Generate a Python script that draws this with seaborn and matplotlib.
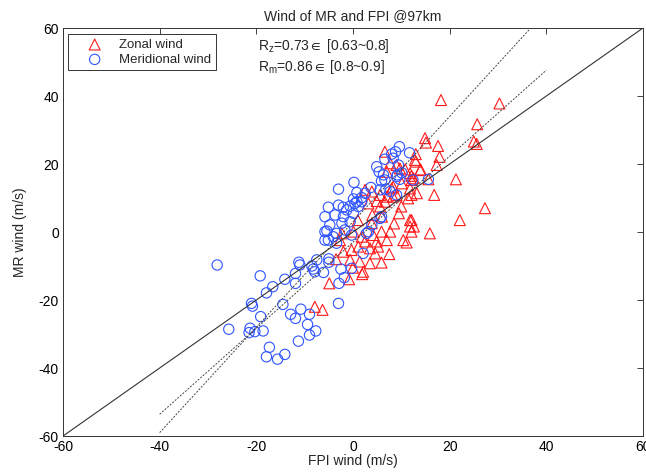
import numpy as np
import pandas as pd
import matplotlib
matplotlib.use("Agg")
import matplotlib.pyplot as plt
import seaborn as sns

# Zonal wind: FPI vs MR (m/s)
zonal_fpi = [18.2, 30.3, 25.7, 25.0, 25.6, 14.9, 15.1, 17.6, 17.9, 17.3, 12.8, 14.0, 21.3, 15.6,
             12.5, 16.8, 12.1, 27.3, 22.1, 12.1, 12.6, 6.6, 13.0, 13.0, 7.7, 7.0, 10.8, 12.1,
             10.1, 11.8, 8.0, 7.0, 9.0, 4.9, 3.2, 5.6, 3.9, 2.5, 9.0, 9.7, 11.8, 13.9, 12.1,
             13.2, 11.4, 8.3, 6.6, 5.6, 8.3, 15.9, 11.8, 11.8, 12.1, 7.7, 7.0, 10.4, 11.1, 3.9,
             5.9, 4.2, 1.8, 0.1, -2.3, 4.9, 2.5, -2.0, -0.3, 1.1, 3.5, 4.6, 5.2, -0.6, 1.4, 3.5,
             5.9, 2.1, -4.9, -0.8, 1.9, -7.9, -6.3, -2.7, 6.0, 9.5, 10.0, 4.0, 1.0, 8.5, 7.5,
             0.0, -3.5]
zonal_mr = [38.8, 37.8, 31.7, 26.6, 25.9, 27.6, 26.3, 25.3, 22.1, 19.7, 21.2, 18.4, 15.5, 15.5,
            15.8, 10.9, 10.9, 7.0, 3.5, 3.5, 1.6, 23.6, 22.9, 20.7, 20.2, 17.7, 18.4, 16.5,
            14.3, 12.8, 12.8, 10.4, 10.9, 9.1, 8.4, 7.5, 11.9, 12.4, 19.7, 18.7, 17.3, 18.2, 15.3,
            11.4, 9.9, 10.4, 8.9, 10.9, 13.3, -0.4, 1.6, 3.5, 0.1, 0.1, -2.4, -2.4, -3.1, 2.6,
            0.1, -0.9, -1.4, 0.1, -0.4, -2.8, -2.8, -5.8, -5.3, -4.3, -4.8, -6.3, -4.3, -8.2, -8.7, -9.2,
            -9.0, -11.7, -15.1, -13.9, -12.4, -22.0, -22.9, -2.4, 4.5, 5.5, 7.5, 5.0, 3.5, 2.5, -6.5,
            -10.5, -8.0]

# Meridional wind: FPI vs MR (m/s)
merid_fpi = [-28.1, -19.2, -16.6, -17.9, -14.1, -11.9, -11.9, -11.2, -11.0, -8.5, -7.9, -21.0,
             -20.8, -14.5, -19.1, -25.7, -21.3, -21.5, -20.3, -18.6, -12.9, -11.9, -10.8, -9.0,
             -9.4, -7.7, -9.0, -11.3, -17.3, -17.9, -15.6, -14.1,
             -3.0, -2.5, -2.9, -0.3, -1.8, -8.2, -6.1, -5.0, -5.0, -5.8, -3.4, -5.4, -7.5, 2.1, 3.2,
             9.6, 8.8, 8.0, 11.7, 6.6, 8.3, 4.9, 5.4, 9.4, 10.1, 9.2, 6.3, 5.9, 6.6, 9.7, 12.4,
             0.2, -3.0, 3.7, 0.8, 2.5, 6.8, 7.7, 0.1, 1.8, 0.8, -5.1, -3.0, -2.0, -0.6, 1.1, -1.3,
             0.4, 1.8, -5.8, -3.7, -2.0, 0.1, -4.8, -2.3, -0.6, -5.8, -3.4, -1.7, -0.3, -5.1, -4.1,
             5.9, 5.6, 15.6, 9.0, 5.6, 9.0, 2.8, 3.9]
merid_mr = [-9.7, -12.9, -16.1, -17.9, -13.9, -12.2, -15.1, -8.9, -9.7, -10.0, -11.7, -21.0,
            -21.8, -21.3, -24.9, -28.6, -28.3, -29.6, -29.3, -29.1, -24.2, -25.4, -22.7, -24.2,
            -27.2, -29.1, -30.3, -32.1, -33.9, -36.7, -37.4, -36.0,
            -21.0, -10.9, -15.1, -10.7, -13.4, -10.9, -11.9, -7.9, -8.9, -2.4, -3.3, 0.3, -8.2, -6.3, 0.1,
            25.1, 23.6, 22.9, 23.3, 21.4, 21.7, 19.2, 17.7, 19.7, 17.4, 16.8, 16.8, 15.0, 15.3, 15.5, 15.3,
            14.6, 12.6, 13.1, 11.6, 11.4, 12.6, 11.9, 9.7, 10.1, 8.9, 7.3, 7.9, 7.3, 7.6, 7.5, 6.5,
            8.4, 8.9, 4.5, 5.0, 4.5, 5.5, 2.1, 2.6, 3.0, 0.1, -0.4, 0.6, -0.9, -2.4, -1.4,
            4.5, 4.0, 15.5, 16.3, 12.4, 10.9, -0.4, 2.1]

# Linear fits (slope, intercept) over FPI wind -40..40
fit_slopes = [1.55, 1.265]
fit_intercepts = [3.0, -3.0]
fit_range = [-40, 40]

axis_ticks = [-60, -40, -20, 0, 20, 40, 60]
corr_lines = [r"R$_\mathregular{z}$=0.73$\in$ [0.63~0.8]", r"R$_\mathregular{m}$=0.86$\in$ [0.8~0.9]"]

sns.set_style("white")
plt.rcParams["font.family"] = ["Liberation Sans", "DejaVu Sans"]
plt.rcParams["mathtext.fontset"] = "custom"
plt.rcParams["mathtext.rm"] = "Liberation Sans"
plt.rcParams["mathtext.it"] = "Liberation Sans"
plt.rcParams["mathtext.fallback"] = "stixsans"
plt.rcParams["axes.unicode_minus"] = False

fig = plt.figure(figsize=(6.46, 4.74), dpi=100)
ax = fig.add_axes([63 / 646, 38 / 474, 580 / 646, 408 / 474])

zonal = pd.DataFrame({"FPI": zonal_fpi, "MR": zonal_mr})
merid = pd.DataFrame({"FPI": merid_fpi, "MR": merid_mr})

sns.scatterplot(data=zonal, x="FPI", y="MR", marker="^", s=62, facecolor="none",
                edgecolor="#ff1a1a", linewidth=0.8, label="Zonal wind", ax=ax, zorder=3)
sns.scatterplot(data=merid, x="FPI", y="MR", marker="o", s=55, facecolor="none",
                edgecolor="#2f55ff", linewidth=0.8, label="Meridional wind", ax=ax, zorder=3)

# 1:1 reference line
ax.plot([axis_ticks[0], axis_ticks[-1]], [axis_ticks[0], axis_ticks[-1]],
        color="#333333", linewidth=0.8, zorder=4)
# Fitted lines
xf = np.array(fit_range, dtype=float)
for k, b in zip(fit_slopes, fit_intercepts):
    ax.plot(xf, k * xf + b, color="#444444", linewidth=0.7, linestyle=(0, (2.0, 1.5)), zorder=4)

ax.set_xlim(-60, 60)
ax.set_ylim(-60, 60)
ax.set_xticks(axis_ticks)
ax.set_yticks(axis_ticks)
ax.tick_params(direction="in", length=4, width=0.6, top=True, right=True,
               labelsize=10, pad=3, colors="#222222", labelcolor="black")
for sp in ax.spines.values():
    sp.set_color("#333333")
    sp.set_linewidth(0.7)

ax.set_xlabel("FPI wind (m/s)", fontsize=10, labelpad=0)
ax.set_ylabel("MR wind (m/s)", fontsize=10, labelpad=8)
ax.set_title("Wind of MR and FPI @97km", fontsize=10, pad=6)

for i, t in enumerate(corr_lines):
    ax.text(0.336, 0.955 - i * 0.05, t, transform=ax.transAxes, fontsize=10,
            ha="left", va="center")

leg = ax.legend(loc="upper left", bbox_to_anchor=(0.008, 0.985), fancybox=False,
                framealpha=1, edgecolor="#333333", fontsize=9.5, handletextpad=0.15,
                borderpad=0.35, labelspacing=0.2, handlelength=3.4, borderaxespad=0)
leg.get_frame().set_linewidth(0.7)

fig.savefig("out.png", dpi=100)
